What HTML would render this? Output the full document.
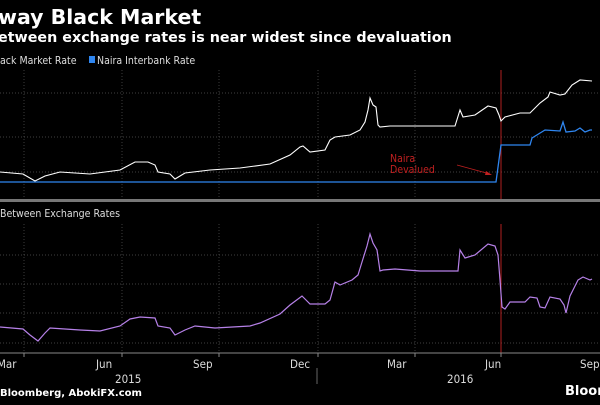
<!DOCTYPE html>
<html><head><meta charset="utf-8"><style>
body{margin:0;background:#000;width:600px;height:400px;overflow:hidden;font-family:"Liberation Sans","DejaVu Sans",sans-serif}
</style></head><body>
<svg width="600" height="400" viewBox="0 0 600 400" xmlns="http://www.w3.org/2000/svg">
<rect width="600" height="400" fill="#000"/>
<text x="-2" y="24" fill="#fff" font-size="20.5" font-weight="bold" font-family="DejaVu Sans, sans-serif">way Black Market</text>
<text x="-2" y="42" fill="#fff" font-size="14.3" font-weight="bold" font-family="DejaVu Sans, sans-serif">etween exchange rates is near widest since devaluation</text>
<text x="0" y="64" fill="#ddd" font-size="10.5" font-family="DejaVu Sans Condensed, DejaVu Sans, sans-serif">ack Market Rate</text>
<rect x="89" y="56" width="6" height="7" fill="#2f86f0"/>
<text x="97" y="64" fill="#ddd" font-size="10.5" font-family="DejaVu Sans Condensed, DejaVu Sans, sans-serif">Naira Interbank Rate</text>
<g stroke="#555" stroke-width="0.7" stroke-dasharray="1,2">
<line x1="24" y1="70" x2="24" y2="198"/><line x1="122" y1="70" x2="122" y2="198"/><line x1="219" y1="70" x2="219" y2="198"/><line x1="318" y1="70" x2="318" y2="198"/><line x1="415" y1="70" x2="415" y2="198"/>
<line x1="0" y1="93" x2="600" y2="93"/><line x1="0" y1="137" x2="600" y2="137"/><line x1="0" y1="172" x2="600" y2="172"/>
<line x1="24" y1="224" x2="24" y2="352"/><line x1="122" y1="224" x2="122" y2="352"/><line x1="219" y1="224" x2="219" y2="352"/><line x1="318" y1="224" x2="318" y2="352"/><line x1="415" y1="224" x2="415" y2="352"/>
<line x1="0" y1="255" x2="600" y2="255"/><line x1="0" y1="284" x2="600" y2="284"/><line x1="0" y1="313" x2="600" y2="313"/><line x1="0" y1="343" x2="600" y2="343"/>
</g>
<rect x="0" y="199" width="600" height="3" fill="#777"/>
<line x1="501" y1="70" x2="501" y2="199" stroke="#b02020" stroke-width="1"/>
<line x1="501" y1="224" x2="501" y2="353" stroke="#b02020" stroke-width="1"/>
<text x="390" y="162" fill="#c02020" font-size="10.5" font-family="DejaVu Sans Condensed, sans-serif">Naira</text>
<text x="390" y="173" fill="#c02020" font-size="10.5" font-family="DejaVu Sans Condensed, sans-serif">Devalued</text>
<line x1="457" y1="165" x2="490" y2="174" stroke="#c02020" stroke-width="0.8"/>
<path d="M492,175 l-6,-4 l-1,4 z" fill="#c02020"/>
<polyline fill="none" stroke="#2f86f0" stroke-width="1.3" points="0,182 496,182 501,145 505,145 530,145 532,138 545,130 560,131 563,122 566,132 575,131 580,128 585,132 590,130 592,130"/>
<polyline fill="none" stroke="#fff" stroke-width="1.1" points="0,172 23,174 35,181 45,176 60,172 90,174 120,170 135,162 148,162 155,165 158,172 170,174 175,179 185,173 210,170 240,168 270,164 290,155 300,147 303,146 310,152 325,150 330,140 335,137 350,135 360,130 365,122 368,110 370,98 373,105 376,107 378,125 380,127 390,126 420,126 455,126 460,110 463,117 475,115 488,106 496,108 499,115 501,121 505,117 520,113 530,113 540,103 548,97 550,92 560,95 565,94 572,85 580,80 592,81"/>
<text x="0" y="217" fill="#ddd" font-size="10.5" font-family="DejaVu Sans Condensed, DejaVu Sans, sans-serif">Between Exchange Rates</text>
<polyline fill="none" stroke="#b681e8" stroke-width="1.2" points="0,327 23,329 30,335 38,341 45,333 50,328 80,330 100,331 120,326 130,319 140,317 155,318 158,326 170,328 175,335 185,330 195,326 215,328 250,326 260,323 280,314 290,305 302,296 306,300 310,304 325,304 330,300 335,282 340,285 352,280 358,275 362,262 367,246 370,234 373,243 377,250 380,271 383,270 395,269 420,271 458,271 460,250 465,258 475,255 488,244 495,246 498,255 500,280 502,307 505,309 510,302 525,302 530,297 537,298 540,307 545,308 550,297 560,299 564,305 566,313 570,296 578,280 583,277 590,280 592,279"/>
<line x1="0" y1="353" x2="600" y2="353" stroke="#888" stroke-width="1"/>
<g stroke="#888" stroke-width="1">
<line x1="24" y1="353" x2="24" y2="357"/><line x1="122" y1="353" x2="122" y2="357"/><line x1="219" y1="353" x2="219" y2="357"/><line x1="318" y1="353" x2="318" y2="357"/><line x1="415" y1="353" x2="415" y2="357"/><line x1="501" y1="353" x2="501" y2="357"/>
<line x1="317" y1="368" x2="317" y2="384" stroke="#666"/>
</g>
<g fill="#ddd" font-size="11.5" font-family="DejaVu Sans Condensed, DejaVu Sans, sans-serif">
<text x="-3" y="368">Mar</text><text x="96" y="368">Jun</text><text x="193" y="368">Sep</text><text x="290" y="368">Dec</text><text x="387" y="368">Mar</text><text x="485" y="368">Jun</text><text x="580" y="368">Sep</text>
<text x="115" y="383">2015</text><text x="447" y="383">2016</text>
</g>
<text x="0" y="396" fill="#fff" font-size="10" font-weight="bold" font-family="DejaVu Sans, sans-serif">Bloomberg, AbokiFX.com</text>
<text x="565" y="395" fill="#fff" font-size="13" font-weight="bold" font-family="DejaVu Sans, sans-serif">Bloom</text>
</svg>
</body></html>
